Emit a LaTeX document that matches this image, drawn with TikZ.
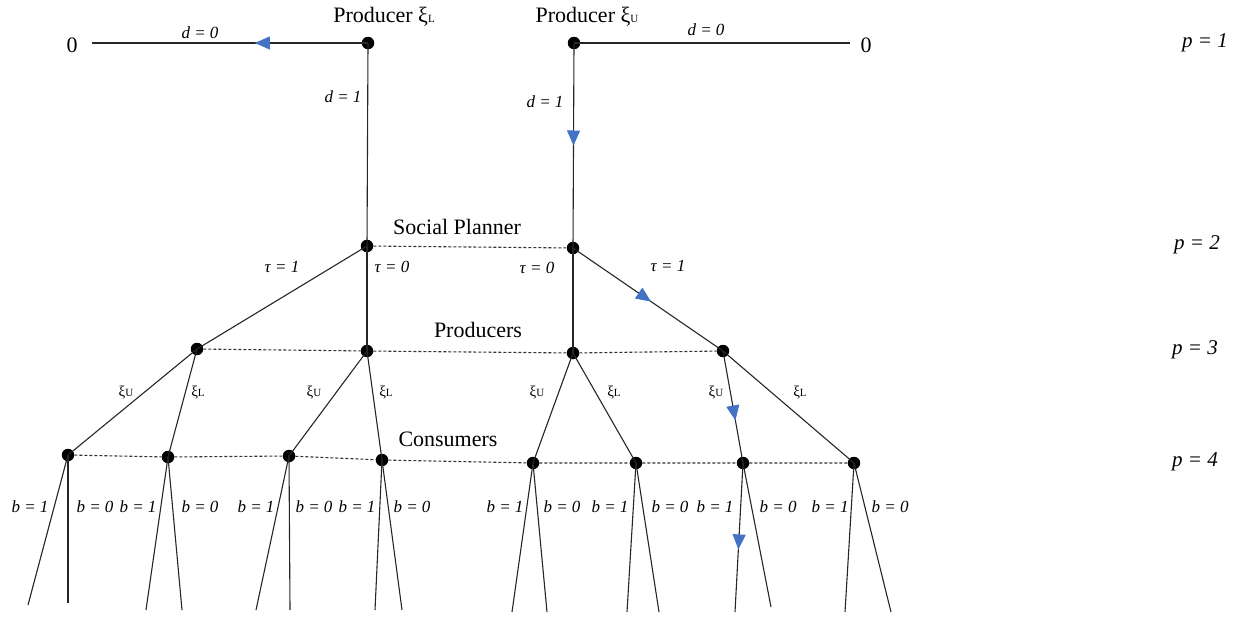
\documentclass[tikz,border=0pt]{standalone}
\usepackage{fontspec}
\setmainfont{Liberation Serif}
\usetikzlibrary{arrows.meta,decorations.markings}
\definecolor{arrowblue}{RGB}{68,114,196}
\newcommand{\xiL}{ξ{\fontsize{11}{11}\selectfont L}}
\newcommand{\xiU}{ξ{\fontsize{11}{11}\selectfont U}}
\begin{document}
\begin{tikzpicture}[x=1pt,y=-1pt,
  dot/.style={circle,fill=black,inner sep=0pt,minimum size=12.5pt},
  edge/.style={line width=1.1pt,draw=black!85},
  info/.style={line width=1.1pt,draw=black!80,dash pattern=on 3pt off 2pt},
  head/.style={font=\fontsize{22}{24}\selectfont,inner sep=0pt},
  elab/.style={font=\fontsize{17}{19}\selectfont\itshape,inner sep=0pt},
  plab/.style={font=\fontsize{21}{23}\selectfont\itshape,inner sep=0pt},
  xlab/.style={font=\fontsize{15}{16}\selectfont,inner sep=0pt},
  arr/.style={postaction={decorate,decoration={markings,mark=at position #1 with {\arrow[color=arrowblue]{Triangle[length=15pt,width=13pt]}}}}}
]
\useasboundingbox (0,0) rectangle (1244,618);
% level 1
\node[dot] (PL) at (368,43) {};
\node[dot] (PU) at (574,43) {};
\node[head] (PLt) at (384,17) {Producer \xiL};
\node[head] (PUt) at (587,17) {Producer \xiU};
\node[head] (ZL) at (72,45) {0};
\node[head] (ZR) at (866,45) {0};
\coordinate (ZLe) at (92,43);
\coordinate (ZRe) at (850,43);
% level 2
\node[dot] (SL) at (367,246) {};
\node[dot] (SR) at (573,248) {};
\node[head] (SP) at (457,227) {Social Planner};
% level 3
\node[dot] (A) at (197,349) {};
\node[dot] (B) at (367,351) {};
\node[dot] (C) at (573,353) {};
\node[dot] (D) at (723,351) {};
\node[head] (PR) at (478,330) {Producers};
% level 4
\node[dot] (C1) at (68,455) {};
\node[dot] (C2) at (168,457) {};
\node[dot] (C3) at (289,456) {};
\node[dot] (C4) at (382,460) {};
\node[dot] (C5) at (533,463) {};
\node[dot] (C6) at (636,463) {};
\node[dot] (C7) at (743,463) {};
\node[dot] (C8) at (854,463) {};
\node[head] (CO) at (448,439) {Consumers};
% leaves
\coordinate (L1a) at (28,605); \coordinate (L1b) at (68,603);
\coordinate (L2a) at (146,610); \coordinate (L2b) at (182,610);
\coordinate (L3a) at (256,610); \coordinate (L3b) at (290,610);
\coordinate (L4a) at (375,610); \coordinate (L4b) at (402,610);
\coordinate (L5a) at (512,612); \coordinate (L5b) at (547,612);
\coordinate (L6a) at (627,612); \coordinate (L6b) at (659,612);
\coordinate (L7a) at (735,612); \coordinate (L7b) at (771,607);
\coordinate (L8a) at (845,612); \coordinate (L8b) at (891,612);

% edges
\draw[edge,arr=0.41] (PL.center) -- (ZLe);
\draw[edge] (PU.center) -- (ZRe);
\draw[edge] (PL.center) -- (SL.center);
\draw[edge,arr=0.5] (PU.center) -- (SR.center);
\draw[edge] (SL.center) -- (A.center);
\draw[edge] (SL.center) -- (B.center);
\draw[edge] (SR.center) -- (C.center);
\draw[edge,arr=0.52] (SR.center) -- (D.center);
\draw[edge] (A.center) -- (C1.center);
\draw[edge] (A.center) -- (C2.center);
\draw[edge] (B.center) -- (C3.center);
\draw[edge] (B.center) -- (C4.center);
\draw[edge] (C.center) -- (C5.center);
\draw[edge] (C.center) -- (C6.center);
\draw[edge,arr=0.62] (D.center) -- (C7.center);
\draw[edge] (D.center) -- (C8.center);
\foreach \i in {1,2,3,4,5,6,8}{
  \draw[edge] (C\i.center) -- (L\i a);
}
\foreach \i in {1,...,8}{
  \draw[edge] (C\i.center) -- (L\i b);
}
\draw[edge,arr=0.58] (C7.center) -- (L7a);
% information sets
\draw[info] (SL) -- (SR);
\draw[info] (A) -- (B) -- (C) -- (D);
\draw[info] (C1) -- (C2) -- (C3) -- (C4) -- (C5) -- (C6) -- (C7) -- (C8);

% edge labels
\node[elab] (d0L) at (200,33) {d = 0};
\node[elab] (d1L) at (343,97) {d = 1};
\node[elab] (d0R) at (706,30) {d = 0};
\node[elab] (d1R) at (545,102) {d = 1};
\node[elab] (t1L) at (282,267) {τ = 1};
\node[elab] (t0L) at (392,267) {τ = 0};
\node[elab] (t0R) at (537,268) {τ = 0};
\node[elab] (t1R) at (668,266) {τ = 1};
\node[xlab] (x1) at (126,393) {\xiU};
\node[xlab] (x2) at (198,393) {\xiL};
\node[xlab] (x3) at (314,393) {\xiU};
\node[xlab] (x4) at (386,393) {\xiL};
\node[xlab] (x5) at (537,393) {\xiU};
\node[xlab] (x6) at (614,393) {\xiL};
\node[xlab] (x7) at (716,393) {\xiU};
\node[xlab] (x8) at (800,393) {\xiL};
\foreach \n/\x/\v in {b1/30/1,b2/95/0,b3/138/1,b4/200/0,b5/256/1,b6/314/0,b7/357/1,b8/412/0,
  b9/505/1,b10/562/0,b11/610/1,b12/670/0,b13/715/1,b14/778/0,b15/830/1,b16/890/0}{
  \node[elab] (\n) at (\x,507) {b = \v};
}
% period labels
\node[plab] (p1) at (1205,43) {p = 1};
\node[plab] (p2) at (1197,245) {p = 2};
\node[plab] (p3) at (1195,350) {p = 3};
\node[plab] (p4) at (1195,462) {p = 4};
\end{tikzpicture}
\end{document}
